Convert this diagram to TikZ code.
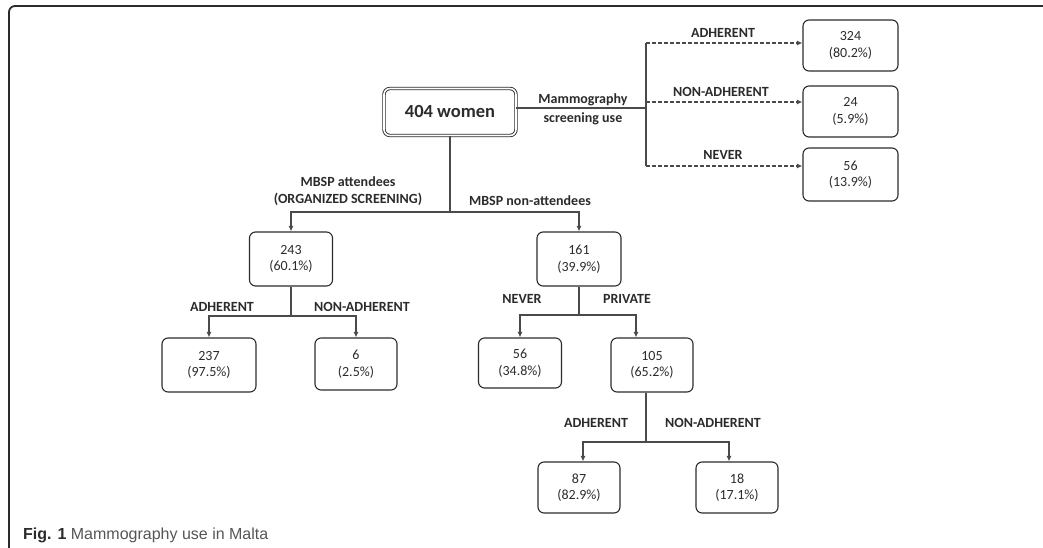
\documentclass[tikz,border=0pt]{standalone}
\usepackage{fontspec}
\setmainfont{Carlito}
\newfontfamily\capfont{Liberation Sans}
\usetikzlibrary{arrows.meta,calc}
\definecolor{ink}{HTML}{2B2B2B}
\definecolor{conn}{HTML}{4A4A4A}
\definecolor{capgrey}{HTML}{555555}
\begin{document}
\begin{tikzpicture}[x=1pt,y=-1pt,
  box/.style={draw=ink, line width=1.1pt, rounded corners=6pt, align=center,
    font=\fontsize{14}{16.5}\selectfont, text=ink, inner sep=0pt},
  mainbox/.style={draw=ink, line width=0.9pt, double=white, double distance=1.6pt,
    rounded corners=6pt, font=\fontsize{18.5}{21}\bfseries\selectfont, text=ink, inner sep=0pt},
  lbl/.style={font=\fontsize{14}{16.5}\bfseries\selectfont, text=ink, align=center, inner sep=0pt},
  conline/.style={draw=conn, line width=1.2pt},
  arr/.style={conline, -{Latex[length=5.5pt,width=5pt]}},
  dasharr/.style={conline, dash pattern=on 3.5pt off 2.5pt, -{Latex[length=5.5pt,width=5pt]}},
  frame/.style={draw=ink, line width=1.8pt, rounded corners=6pt}
]
\useasboundingbox (0,0) rectangle (1043,548);
\draw[frame] (9,548) -- (9,6) -- (1043,6);

% nodes
\node[mainbox, minimum width=132pt, minimum height=47pt] (b404) at (450,112) {404 women};
\node[box, minimum width=95pt, minimum height=51pt] (b324) at (850.5,45.5) {324\\(80.2\%)};
\node[box, minimum width=95pt, minimum height=51pt] (b24) at (850.5,111.5) {24\\(5.9\%)};
\node[box, minimum width=95pt, minimum height=53pt] (b56r) at (850.5,174.5) {56\\(13.9\%)};
\node[box, minimum width=83pt, minimum height=54pt] (b243) at (291,259) {243\\(60.1\%)};
\node[box, minimum width=84pt, minimum height=54pt] (b161) at (579,259) {161\\(39.9\%)};
\node[box, minimum width=94pt, minimum height=54pt] (b237) at (209,365) {237\\(97.5\%)};
\node[box, minimum width=82pt, minimum height=52pt] (b6) at (356,364) {6\\(2.5\%)};
\node[box, minimum width=83pt, minimum height=50pt] (b56) at (520,363) {56\\(34.8\%)};
\node[box, minimum width=82pt, minimum height=54pt] (b105) at (652,365) {105\\(65.2\%)};
\node[box, minimum width=82pt, minimum height=51pt] (b87) at (579,487.5) {87\\(82.9\%)};
\node[box, minimum width=82pt, minimum height=51pt] (b18) at (737,487.5) {18\\(17.1\%)};

% junctions
\coordinate (hub) at (646,108);
\coordinate (spine1) at (646,43);
\coordinate (spine2) at (646,102);
\coordinate (spine3) at (646,166);
\coordinate (j0) at (450,212);
\coordinate (j1) at (291,316);
\coordinate (j2) at (579,315);
\coordinate (j3) at (646,442);

% top branch (dashed)
\draw[conline] (b404.east |- hub) -- (hub);
\draw[conline] (spine1) -- (spine3);
\draw[dasharr] (spine1) -- (spine1 -| b324.west);
\draw[dasharr] (spine2) -- (spine2 -| b24.west);
\draw[dasharr] (spine3) -- (spine3 -| b56r.west);

% main tree
\draw[conline] (b404.south) -- (j0);
\draw[arr] (j0) -| (b243.north);
\draw[arr] (j0) -| (b161.north);
\draw[conline] (b243.south) -- (j1);
\draw[arr] (j1) -| (b237.north);
\draw[arr] (j1) -| (b6.north);
\draw[conline] (b161.south) -- (j2);
\draw[arr] (j2) -| (b56.north);
\draw[arr] (j2) -| ($(b105.north)+(-16,0)$);
\draw[conline] ($(b105.south)+(-6,0)$) -- (j3);
\draw[arr] (j3) -| ($(b87.north)+(4,0)$);
\draw[arr] (j3) -| ($(b18.north)+(-8,0)$);

% labels
\node[lbl] (lA1) at (723,33) {ADHERENT};
\node[lbl] (lN1) at (721,92) {NON-ADHERENT};
\node[lbl] (lV1) at (723,155) {NEVER};
\node[lbl, font=\fontsize{14}{18.5}\bfseries\selectfont] (lMam) at (583,109.5) {Mammography\\screening use};
\node[lbl] (lAtt) at (348,191) {MBSP attendees\\(ORGANIZED SCREENING)};
\node[lbl] (lNon) at (530,201) {MBSP non-attendees};
\node[lbl] (lA2) at (222,307) {ADHERENT};
\node[lbl] (lN2) at (362,307) {NON-ADHERENT};
\node[lbl] (lV2) at (522,299) {NEVER};
\node[lbl] (lP2) at (627,299) {PRIVATE};
\node[lbl] (lA3) at (596,423) {ADHERENT};
\node[lbl] (lN3) at (713,423) {NON-ADHERENT};

% caption
\node[anchor=base west, inner sep=0pt, font=\capfont\fontsize{16}{19}\selectfont] (cap) at (23,539)
  {\textcolor{ink}{\bfseries Fig. 1} \textcolor{capgrey}{Mammography use in Malta}};
\end{tikzpicture}
\end{document}
